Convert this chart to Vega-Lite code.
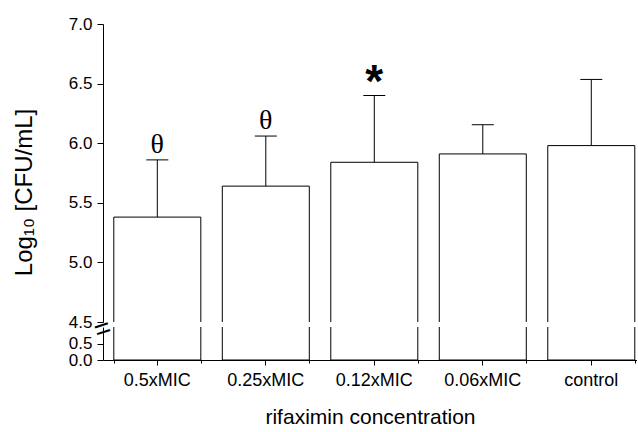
{
  "$schema": "https://vega.github.io/schema/vega-lite/v6.json",
  "background": "white",
  "padding": {"left": 12, "top": 15, "right": 0, "bottom": 0},
  "spacing": 5,
  "bounds": "flush",
  "config": {
    "font": "Liberation Sans",
    "view": {"stroke": null},
    "axis": {
      "grid": false,
      "domainColor": "black",
      "tickColor": "black",
      "labelColor": "black",
      "titleColor": "black",
      "labelFont": "Liberation Sans",
      "titleFont": "Liberation Sans",
      "titleFontWeight": "normal",
      "domainWidth": 1,
      "tickWidth": 1
    }
  },
  "datasets": {
    "bars": [
      {"conc": "0.5xMIC", "mean": 5.38, "upper": 5.86, "sig": "θ"},
      {"conc": "0.25xMIC", "mean": 5.64, "upper": 6.06, "sig": "θ"},
      {"conc": "0.12xMIC", "mean": 5.84, "upper": 6.40, "sig": "*"},
      {"conc": "0.06xMIC", "mean": 5.91, "upper": 6.155, "sig": ""},
      {"conc": "control", "mean": 5.98, "upper": 6.535, "sig": ""}
    ]
  },
  "vconcat": [
    {
      "width": 534,
      "height": 298,
      "data": {"name": "bars"},
      "encoding": {
        "x": {
          "field": "conc",
          "type": "nominal",
          "sort": null,
          "scale": {"paddingInner": 0.198, "paddingOuter": 0.06, "align": 0.83, "round": false},
          "axis": null
        }
      },
      "layer": [
        {
          "mark": {"type": "bar", "fill": "white", "stroke": "black", "strokeWidth": 1, "clip": true},
          "encoding": {
            "y": {
              "field": "mean",
              "type": "quantitative",
              "scale": {"domain": [4.5, 7], "zero": false, "nice": false},
              "axis": {
                "values": [4.5, 5, 5.5, 6, 6.5, 7],
                "format": ".1f",
                "title": "Log₁₀ [CFU/mL]",
                "titleFontSize": 24,
                "titlePadding": 32,
                "titleY": 168,
                "labelFontSize": 17,
                "labelPadding": 5,
                "labelOverlap": false,
                "tickSize": 6
              }
            },
            "y2": {"datum": 4.3}
          }
        },
        {
          "mark": {"type": "rule", "color": "black", "strokeWidth": 1},
          "encoding": {
            "y": {"field": "mean", "type": "quantitative"},
            "y2": {"field": "upper"}
          }
        },
        {
          "mark": {"type": "tick", "color": "black", "size": 22, "thickness": 1, "opacity": 1},
          "encoding": {
            "y": {"field": "upper", "type": "quantitative"}
          }
        },
        {
          "transform": [{"filter": "datum.sig == 'θ'"}],
          "mark": {"type": "text", "font": "Liberation Serif", "fontSize": 28, "baseline": "alphabetic", "dy": -7, "color": "black"},
          "encoding": {
            "y": {"field": "upper", "type": "quantitative"},
            "text": {"field": "sig"}
          }
        },
        {
          "transform": [{"filter": "datum.sig == '*'"}],
          "mark": {"type": "text", "font": "Liberation Sans", "fontWeight": "bold", "fontSize": 46, "baseline": "alphabetic", "dy": 1, "color": "black"},
          "encoding": {
            "y": {"field": "upper", "type": "quantitative"},
            "text": {"field": "sig"}
          }
        },
        {
          "data": {"values": [{"brk": "="}]},
          "mark": {"type": "text", "fontSize": 28, "baseline": "middle", "align": "center", "angle": -18, "dx": -13, "dy": 4, "color": "black"},
          "encoding": {
            "x": {"datum": "0.5xMIC", "type": "nominal", "bandPosition": 0},
            "y": {"datum": 4.5, "type": "quantitative"},
            "text": {"field": "brk"}
          }
        }
      ]
    },
    {
      "width": 534,
      "height": 33,
      "data": {"name": "bars"},
      "layer": [
        {
          "mark": {"type": "bar", "fill": "white", "stroke": "black", "strokeWidth": 1, "clip": true},
          "encoding": {
            "x": {
              "field": "conc",
              "type": "nominal",
              "sort": null,
              "scale": {"paddingInner": 0.198, "paddingOuter": 0.06, "align": 0.83, "round": false},
              "axis": {
                "title": "rifaximin concentration",
                "titleFontSize": 21,
                "titlePadding": 17,
                "labelAngle": 0,
                "labelFontSize": 18,
                "labelPadding": 6,
                "tickSize": 5
              }
            },
            "y": {
              "field": "mean",
              "type": "quantitative",
              "scale": {"domain": [0, 1], "nice": false},
              "axis": {
                "values": [0, 0.5],
                "format": ".1f",
                "title": null,
                "labelFontSize": 17,
                "labelPadding": 5,
                "labelOverlap": false,
                "tickSize": 6
              }
            }
          }
        },
        {
          "mark": {"type": "tick", "opacity": 0},
          "encoding": {
            "x": {
              "field": "conc",
              "type": "nominal",
              "sort": null,
              "axis": {
                "orient": "bottom",
                "tickBand": "extent",
                "labels": false,
                "domain": false,
                "tickSize": 3,
                "title": null
              }
            }
          }
        }
      ],
      "resolve": {"axis": {"x": "independent"}}
    }
  ]
}
